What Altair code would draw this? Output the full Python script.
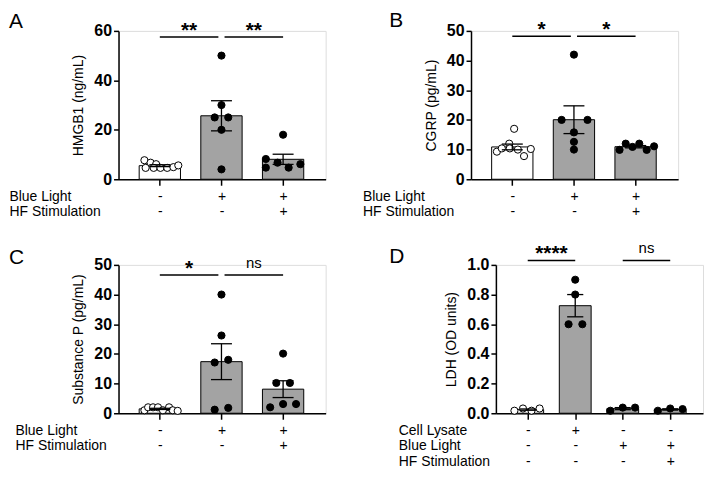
import json
import altair as alt
import pandas as pd

FONT = "Liberation Sans"
BAR_GRAY = "#a3a3a3"

# ---------------- Panel A: HMGB1 ----------------
A_values = [[7.7, 6.7, 6.1, 4.6, 4.6, 4.6, 4.6, 4.9, 5.6],
            [50, 30, 25, 25, 20, 4],
            [18, 8.2, 6.7, 6.1, 4.7, 4.7]]
A_jitter = [[-0.25, -0.15, -0.06, -0.23, -0.10, 0.01, 0.12, 0.22, 0.30],
            [0, 0, -0.11, 0.11, 0, 0],
            [0, -0.28, -0.09, 0.28, -0.28, 0.09]]
A_rows = ["Blue Light", "HF Stimulation"]
A_signs = [["-", "-"], ["+", "-"], ["+", "+"]]
A_sig_from = [0, 1.05]
A_sig_to = [0.95, 2]
A_sig_label = ["**", "**"]
A_sig_y = 57.5
A_yticks = [0, 20, 40, 60]

# ---------------- Panel B: CGRP ----------------
B_values = [[17, 12, 9.3, 10.4, 10.4, 10.0, 7.8, 10.2],
            [42, 20, 20, 15.8, 12.6, 10],
            [9.9, 12.0, 10.9, 12.0, 9.9, 11.1]]
B_jitter = [[0.03, -0.05, -0.25, -0.17, -0.04, 0.09, 0.19, 0.30],
            [0, -0.2, 0.22, 0, 0, 0],
            [-0.26, -0.16, -0.05, 0.06, 0.18, 0.30]]
B_rows = ["Blue Light", "HF Stimulation"]
B_signs = [["-", "-"], ["+", "-"], ["+", "+"]]
B_sig_from = [0, 1.05]
B_sig_to = [0.95, 2]
B_sig_label = ["*", "*"]
B_sig_y = 48.2
B_yticks = [0, 10, 20, 30, 40, 50]

# ---------------- Panel C: Substance P ----------------
C_values = [[1.0, 2.0, 2.0, 2.0, 1.0, 2.0, 1.0, 0.8],
            [40, 26.2, 17.1, 18.0, 1.2, 1.8],
            [20.1, 10.2, 10.2, 2.0, 3.1, 3.1]]
C_jitter = [[-0.25, -0.19, -0.11, -0.03, 0.05, 0.15, 0.21, 0.29],
            [0, 0, -0.11, 0.11, -0.11, 0.11],
            [0, -0.11, 0.11, -0.21, 0, 0.21]]
C_rows = ["Blue Light", "HF Stimulation"]
C_signs = [["-", "-"], ["+", "-"], ["+", "+"]]
C_sig_from = [0, 1.05]
C_sig_to = [0.95, 2]
C_sig_label = ["*", "ns"]
C_sig_y = 46.6
C_yticks = [0, 10, 20, 30, 40, 50]

# ---------------- Panel D: LDH ----------------
D_values = [[0.017, 0.032, 0.017, 0.032],
            [0.90, 0.80, 0.60, 0.60],
            [0.017, 0.038, 0.038],
            [0.017, 0.032, 0.028]]
D_jitter = [[-0.28, -0.10, 0.08, 0.25],
            [0, 0, -0.14, 0.15],
            [-0.26, 0, 0.26],
            [-0.26, 0, 0.26]]
D_rows = ["Cell Lysate", "Blue Light", "HF Stimulation"]
D_signs = [["-", "-", "-"], ["+", "-", "-"], ["-", "+", "-"], ["-", "+", "+"]]
D_sig_from = [0, 2]
D_sig_to = [1, 3]
D_sig_label = ["****", "ns"]
D_sig_y = 1.03
D_yticks = [0, 0.2, 0.4, 0.6, 0.8, 1.0]


def panel(letter, values, jitter, rows, signs, sig_from, sig_to, sig_label, sig_y,
          ytitle, yticks, yfmt, width, height, title_x, letter_dx, letter_dy):
    n = len(values)
    recs = []
    for i, (vs, js) in enumerate(zip(values, jitter)):
        for v, j in zip(vs, js):
            recs.append({"pos": i, "value": v, "jit": j})
    df = pd.DataFrame(recs)
    sig = pd.DataFrame({"x1": sig_from, "x2": sig_to,
                        "y": [sig_y] * len(sig_from), "label": sig_label})
    sig["xm"] = (sig["x1"] + sig["x2"]) / 2

    xscale = alt.Scale(domain=[-0.67, n - 1 + 0.69], nice=False, zero=False)
    yscale = alt.Scale(domain=[yticks[0], yticks[-1]], nice=False)
    xaxis = alt.Axis(
        values=list(range(n)), labelExpr=json.dumps(signs) + "[datum.value]",
        labelFont=FONT, labelFontSize=14, labelColor="black", labelPadding=4,
        labelLineHeight=15.5, labelAngle=0, labelFlush=False, labelOverlap=False,
        tickSize=6, tickWidth=1.5, tickColor="black",
        domainColor="black", domainWidth=1.5, grid=False,
        title=rows, titleX=title_x, titleY=10, titleAlign="left", titleBaseline="top",
        titleFont=FONT, titleFontSize=14, titleFontWeight="normal", titleColor="black",
        titleLineHeight=15.5, titleAngle=0)
    yaxis = alt.Axis(
        values=yticks, format=yfmt, labelFont=FONT, labelFontSize=16,
        labelFontWeight="bold", labelColor="black", labelPadding=2,
        tickSize=5, tickWidth=1.5, tickColor="black",
        domainColor="black", domainWidth=1.5, grid=False,
        title=ytitle, titleFont=FONT, titleFontSize=14, titleFontWeight="normal",
        titleColor="black", titlePadding=8)

    base = alt.Chart(df)
    fill = alt.condition("datum.pos == 0", alt.value("white"), alt.value(BAR_GRAY))
    pfill = alt.condition("datum.pos == 0", alt.value("white"), alt.value("black"))

    bars = base.transform_aggregate(
        mean="mean(value)", groupby=["pos"]
    ).transform_calculate(
        bx1="datum.pos - 0.335", bx2="datum.pos + 0.335"
    ).mark_bar(stroke="black", strokeWidth=1).encode(
        x=alt.X("bx1:Q", scale=xscale, axis=xaxis), x2="bx2:Q",
        y=alt.Y("mean:Q", scale=yscale, axis=yaxis), y2=alt.datum(0), fill=fill)

    pts = base.transform_calculate(
        px="datum.pos + datum.jit"
    ).mark_point(shape="circle", filled=True, size=52, stroke="black",
                 strokeWidth=1, opacity=1, fillOpacity=1).encode(
        x=alt.X("px:Q", scale=xscale, axis=xaxis),
        y=alt.Y("value:Q", scale=yscale, axis=yaxis), fill=pfill)

    err = base.transform_aggregate(
        mean="mean(value)", se="stderr(value)", groupby=["pos"]
    ).transform_calculate(
        lo="datum.mean - datum.se", hi="datum.mean + datum.se",
        c1="datum.pos - 0.17", c2="datum.pos + 0.17")
    err_v = err.mark_rule(color="black", strokeWidth=1.3).encode(
        x=alt.X("pos:Q", scale=xscale, axis=xaxis),
        y=alt.Y("lo:Q", scale=yscale, axis=yaxis), y2="hi:Q")
    cap_lo = err.mark_rule(color="black", strokeWidth=1.3).encode(
        x=alt.X("c1:Q", scale=xscale, axis=xaxis), x2="c2:Q",
        y=alt.Y("lo:Q", scale=yscale, axis=yaxis))
    cap_hi = err.mark_rule(color="black", strokeWidth=1.3).encode(
        x=alt.X("c1:Q", scale=xscale, axis=xaxis), x2="c2:Q",
        y=alt.Y("hi:Q", scale=yscale, axis=yaxis))

    sbase = alt.Chart(sig)
    sig_rule = sbase.mark_rule(color="black", strokeWidth=1.5).encode(
        x=alt.X("x1:Q", scale=xscale, axis=xaxis), x2="x2:Q",
        y=alt.Y("y:Q", scale=yscale, axis=yaxis))
    sig_star = sbase.transform_filter("datum.label != 'ns'").mark_text(
        font=FONT, fontSize=21, fontWeight="bold", baseline="alphabetic",
        color="black").encode(
        x=alt.X("xm:Q", scale=xscale, axis=xaxis),
        y=alt.Y("y:Q", scale=yscale, axis=yaxis), text="label:N")
    sig_ns = sbase.transform_filter("datum.label == 'ns'").mark_text(
        font=FONT, fontSize=15, baseline="alphabetic", dy=-7,
        color="black").encode(
        x=alt.X("xm:Q", scale=xscale, axis=xaxis),
        y=alt.Y("y:Q", scale=yscale, axis=yaxis), text="label:N")

    return alt.layer(bars, pts, err_v, cap_lo, cap_hi, sig_rule, sig_star, sig_ns).properties(
        width=width, height=height,
        title=alt.TitleParams(text=letter, anchor="start", frame="group", orient="top",
                              font=FONT, fontSize=21, fontWeight="normal", color="black",
                              dx=letter_dx, dy=letter_dy, offset=0))


W = 208
H = 149
pA = panel("A", A_values, A_jitter, A_rows, A_signs, A_sig_from, A_sig_to, A_sig_label,
           A_sig_y, "HMGB1 (ng/mL)", A_yticks, "d", W, H, -110, -110, 12)
pB = panel("B", B_values, B_jitter, B_rows, B_signs, B_sig_from, B_sig_to, B_sig_label,
           B_sig_y, "CGRP (pg/mL)", B_yticks, "d", W, H, -109, -82, 12)
pC = panel("C", C_values, C_jitter, C_rows, C_signs, C_sig_from, C_sig_to, C_sig_label,
           C_sig_y, "Substance P (pg/mL)", C_yticks, "d", W, H, -104, -110, 12)
pD = panel("D", D_values, D_jitter, D_rows, D_signs, D_sig_from, D_sig_to, D_sig_label,
           D_sig_y, "LDH (OD units)", D_yticks, ".1f", W, H, -98, -107, 26)

row1 = alt.hconcat(pA, pB, spacing=146, bounds="flush")
row2 = alt.hconcat(pC, pD, spacing=171, bounds="flush")

chart = alt.concat(row1, row2, columns=1, spacing=22, bounds="full", align="none").properties(
    padding={"left": 0, "top": 0, "right": 0, "bottom": 0}
).configure_view(stroke=None).configure(font=FONT)

chart.save("out.html", embed_options={"renderer": "svg", "actions": False})
